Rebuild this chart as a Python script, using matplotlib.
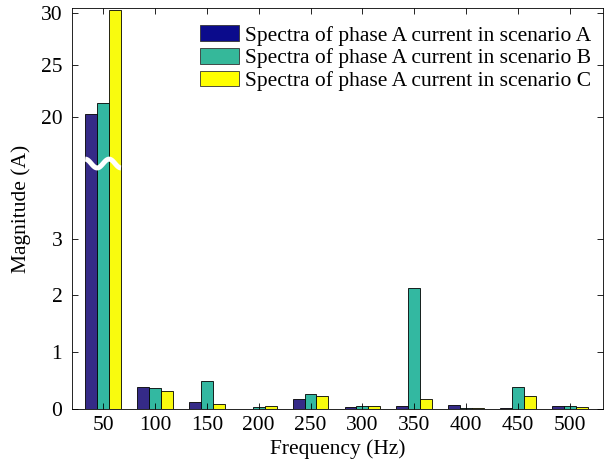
import numpy as np
import matplotlib
matplotlib.use("Agg")
import matplotlib.pyplot as plt
from matplotlib.patches import Patch
import matplotlib.transforms as mtransforms

plt.rcParams['font.family'] = ['Liberation Serif', 'DejaVu Serif']

freqs = [50, 100, 150, 200, 250, 300, 350, 400, 450, 500]
scen_a = [20.3, 0.38, 0.115, 0.005, 0.18, 0.03, 0.05, 0.075, 0.015, 0.055]
scen_b = [21.4, 0.37, 0.50, 0.03, 0.27, 0.06, 2.13, 0.025, 0.38, 0.055]
scen_c = [30.3, 0.31, 0.085, 0.06, 0.22, 0.045, 0.17, 0.015, 0.225, 0.03]
labels = ['Spectra of phase A current in scenario A',
          'Spectra of phase A current in scenario B',
          'Spectra of phase A current in scenario C']
yticks = [0, 1, 2, 3, 20, 25, 30]

# broken axis: 0..b on a tall scale, u..top on a compressed scale
b_low, u_high = 4.32, 15.55
k1, k2 = 56.8, 10.4


def fwd(v):
    v = np.asarray(v, dtype=float)
    low = v * k1
    high = b_low * k1 + (np.maximum(v, u_high) - u_high) * k2
    return np.where(v <= b_low, low, high)


def inv(p):
    p = np.asarray(p, dtype=float)
    lim = b_low * k1
    return np.where(p <= lim, p / k1, u_high + (p - lim) / k2)


fig = plt.figure(figsize=(6.11, 4.63), dpi=100)
ax = fig.add_axes([72/611, 1 - 409/463, (603-72)/611, (409-8)/463])
ax.set_yscale('function', functions=(fwd, inv))

w = 11.5
cols = ['#352A87', '#33B8A1', '#F9FB0E']
for i, vals in enumerate([scen_a, scen_b, scen_c]):
    ax.bar(np.array(freqs) + (i - 1) * w, vals, width=w, color=cols[i],
           edgecolor='black', linewidth=0.6)

ax.set_xlim(20, 532)
ax.set_ylim(0, 30.5)
ax.set_xticks(freqs)
ax.set_yticks(yticks)
ax.tick_params(direction='in', top=True, right=True, labelsize=15.5,
               length=4, width=0.6)
ax.tick_params(axis='y', pad=7)
ax.tick_params(axis='x', pad=5)
for s in ax.spines.values():
    s.set_linewidth(0.6)
ax.set_xlabel('Frequency (Hz)', fontsize=15.5, labelpad=3)
ax.set_ylabel('Magnitude (A)', fontsize=15.5, labelpad=7)

# break mark across the 50 Hz group
y0, y1 = ax.get_ylim()
pb = b_low * k1
frac = (pb - fwd(y0)) / (fwd(y1) - fwd(y0))
t = np.linspace(0, 1, 60)
xs = freqs[0] - 1.5 * w + t * 3 * w
ys = frac + 0.011 * np.cos(2 * np.pi * 1.5 * t)
trans = mtransforms.blended_transform_factory(ax.transData, ax.transAxes)
ax.plot(xs, ys, color='white', linewidth=3.6, transform=trans,
        solid_capstyle='butt', zorder=5)

handles = [Patch(facecolor='#0B0B8C', edgecolor='#333333', linewidth=0.6),
           Patch(facecolor='#35B89A', edgecolor='#333333', linewidth=0.6),
           Patch(facecolor='#FFFF00', edgecolor='#333333', linewidth=0.6)]
ax.legend(handles, labels, loc='upper right', frameon=False, fontsize=15.5,
          handlelength=1.8, handleheight=0.75, handletextpad=0.25,
          labelspacing=0.1, borderaxespad=0.0,
          bbox_to_anchor=(0.993, 0.978))

fig.savefig('out.png', dpi=100)
